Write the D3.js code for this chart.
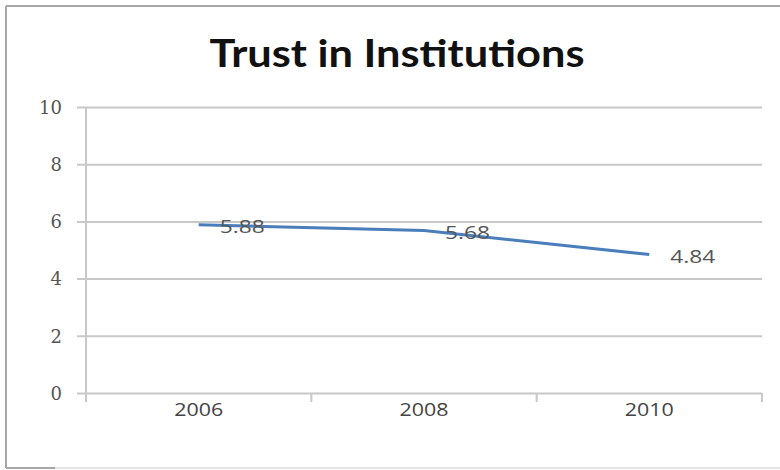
<!DOCTYPE html>
<html>
<head>
<meta charset="utf-8">
<script src="https://cdn.jsdelivr.net/npm/d3@7"></script>
<style>
  html, body { margin: 0; padding: 0; background: #fff; }
  svg { display: block; }
</style>
</head>
<body>
<svg id="chart" width="780" height="470"></svg>
<script>
// Trust index by survey year
const years = ["2006", "2008", "2010"];
const trust = [5.88, 5.68, 4.84];
const yTicks = [0, 2, 4, 6, 8, 10];
const titleText = "Trust in Institutions";

const svg = d3.select("#chart");
const W = 780, H = 470;
const plot = { left: 86, right: 762, top: 107, bottom: 393 };

// Frame around the chart (top, left, bottom edges)
const frame = svg.append("g").attr("stroke", "#a6a6a6").attr("stroke-width", 2);
frame.append("line").attr("x1", 6).attr("x2", W).attr("y1", 6).attr("y2", 6);
frame.append("line").attr("x1", 6).attr("x2", 6).attr("y1", 6).attr("y2", 468);
frame.append("line").attr("x1", 6).attr("x2", 55).attr("y1", 468).attr("y2", 468);
frame.append("line").attr("x1", 55).attr("x2", W).attr("y1", 468).attr("y2", 468)
  .attr("stroke", "#e4e4e4");

// Title
svg.append("text")
  .attr("x", 397).attr("y", 67)
  .attr("text-anchor", "middle")
  .attr("font-family", "Lato, 'Open Sans', sans-serif")
  .attr("font-weight", "bold")
  .attr("font-size", 38)
  .attr("textLength", 375)
  .attr("lengthAdjust", "spacingAndGlyphs")
  .attr("fill", "#111")
  .text(titleText);

const x = d3.scaleBand().domain(years).range([plot.left, plot.right]);
const y = d3.scaleLinear().domain([0, 10]).range([plot.bottom, plot.top]);

// Horizontal gridlines with small outside ticks
const yAxis = d3.axisLeft(y).tickValues(yTicks).tickSize(plot.right - plot.left + 9).tickFormat(d3.format("d"));
const gy = svg.append("g").attr("transform", `translate(${plot.right},0)`).call(yAxis);
gy.select(".domain").remove();
gy.selectAll(".tick line").attr("stroke", "#c8c8c8").attr("stroke-width", 2);
gy.selectAll(".tick text")
  .attr("x", -(plot.right - 62))
  .attr("dy", "0.35em")
  .attr("font-family", "'DejaVu Serif', 'Liberation Serif', serif")
  .attr("font-size", 18)
  .attr("fill", "#555");

// Vertical axis line
svg.append("line")
  .attr("x1", plot.left).attr("x2", plot.left)
  .attr("y1", plot.top).attr("y2", plot.bottom + 9)
  .attr("stroke", "#c8c8c8").attr("stroke-width", 2);

// Category axis: ticks on band boundaries, labels centred in bands
const boundaries = years.map(d => x(d)).concat([x(years[years.length - 1]) + x.bandwidth()]);
svg.append("g").selectAll("line").data(boundaries).join("line")
  .attr("x1", d => d).attr("x2", d => d)
  .attr("y1", plot.bottom).attr("y2", plot.bottom + 9)
  .attr("stroke", "#c8c8c8").attr("stroke-width", 2);

svg.append("g").selectAll("text").data(years).join("text")
  .attr("x", d => x(d) + x.bandwidth() / 2)
  .attr("y", 416)
  .attr("text-anchor", "middle")
  .attr("font-family", "'Open Sans', 'Liberation Sans', sans-serif")
  .attr("font-size", 19)
  .attr("textLength", 49)
  .attr("lengthAdjust", "spacingAndGlyphs")
  .attr("fill", "#444")
  .text(d => d);

// Trust line
const pts = years.map((d, i) => ({ year: d, value: trust[i] }));
const line = d3.line().x(d => x(d.year) + x.bandwidth() / 2).y(d => y(d.value));
svg.append("path")
  .datum(pts)
  .attr("d", line)
  .attr("fill", "none")
  .attr("stroke", "#4a7ebb")
  .attr("stroke-width", 3);

// Value labels
svg.append("g").selectAll("text").data(pts).join("text")
  .attr("x", d => x(d.year) + x.bandwidth() / 2 + 21)
  .attr("y", d => y(d.value) + 2)
  .attr("dy", "0.35em")
  .attr("font-family", "'Open Sans', 'Liberation Sans', sans-serif")
  .attr("font-size", 19)
  .attr("textLength", 45)
  .attr("lengthAdjust", "spacingAndGlyphs")
  .attr("fill", "#555")
  .text(d => d3.format(".2f")(d.value));
</script>
</body>
</html>
